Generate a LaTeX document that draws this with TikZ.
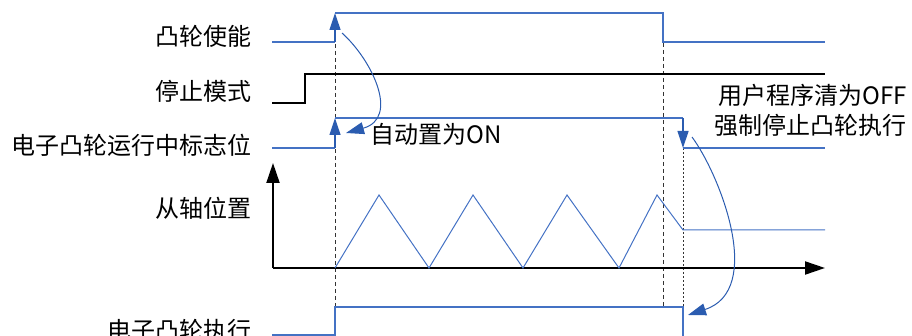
\documentclass[tikz,border=0pt]{standalone}
\usepackage{fontspec}
\setmainfont{Noto Sans CJK SC}
\usetikzlibrary{arrows.meta}

\definecolor{sigblue}{HTML}{4472C4}
\definecolor{tipblue}{HTML}{2B5CB0}

\begin{document}
\begin{tikzpicture}[
  x=1pt, y=-1pt,
  every node/.style={font=\fontsize{24}{30}\selectfont, inner sep=0pt},
  siglabel/.style={anchor=east},
  note/.style={anchor=west},
  signal/.style={sigblue, line width=1.2pt},
  level/.style={black, line width=1.1pt},
  axis/.style={-{Triangle[length=20pt,width=13pt]}, line width=2pt},
  marker/.style={black!80, line width=0.9pt, dash pattern=on 4pt off 3pt},
  fine/.style={black!80, line width=0.9pt, dash pattern=on 2pt off 2pt},
  edgetip/.style={-{Triangle[length=17pt,width=11pt]}, tipblue, line width=1.2pt},
  curve/.style={-{Triangle[length=18pt,width=12pt]}, tipblue, line width=1pt}
]
\useasboundingbox (0,0) rectangle (912,336);

\node[siglabel] (camen) at (252,36) {凸轮使能};
\node[siglabel] (stopmode) at (252,91) {停止模式};
\node[siglabel] (runflag) at (252,145) {电子凸轮运行中标志位};
\node[siglabel] (slavepos) at (252,208) {从轴位置};
\node[siglabel] (camexec) at (252,330) {电子凸轮执行};
\node[note] (autoon) at (370,134) {自动置为ON};
\node[anchor=east, align=right] (useroff) at (907,110) {用户程序清为OFF\\强制停止凸轮执行};

\coordinate (enlow) at (335,42);
\coordinate (enhigh) at (335,13);
\coordinate (flaglow) at (335,148);
\coordinate (flaghigh) at (335,118);
\coordinate (offhigh) at (683,118);
\coordinate (offlow) at (683,148);
\coordinate (bendstart) at (342,33);
\coordinate (bendend) at (346,133);
\coordinate (dropstart) at (692,137);
\coordinate (dropend) at (688,315);

\draw[marker] (335,30) -- (335,307);
\draw[marker] (663,43) -- (663,307);
\draw[fine] (683,148) -- (683,307);

\draw[signal] (272,42) -- (enlow);
\draw[edgetip] (enlow) -- (enhigh);
\draw[signal] (enhigh) -- (663,13) -- (663,42) -- (825,42);

\draw[level] (272,103) -- (305,103) -- (305,74) -- (825,74);

\draw[signal] (272,148) -- (flaglow);
\draw[edgetip] (flaglow) -- (flaghigh);
\draw[signal] (flaghigh) -- (offhigh);
\draw[edgetip] (offhigh) -- (offlow);
\draw[signal] (offlow) -- (825,148);

\draw[axis] (273,268) -- (273,163);
\draw[axis] (273,268) -- (825,268);
\draw[signal, line width=1pt] (335,268) -- (379,195) -- (429,268) -- (473,195) -- (523,268)
  -- (567,195) -- (619,268) -- (657,195) -- (683,230) -- (825,230);

\draw[signal] (272,335) -- (335,335) -- (335,307) -- (683,307) -- (683,345);

\draw[curve] (bendstart) .. controls (372,60) and (400,118) .. (bendend);
\draw[curve] (dropstart) .. controls (720,175) and (765,290) .. (dropend);
\end{tikzpicture}
\end{document}
